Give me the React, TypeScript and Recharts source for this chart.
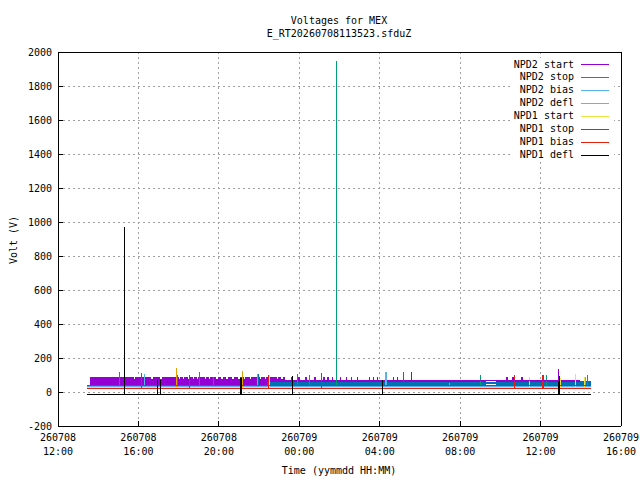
import React from 'react';
import { ComposedChart, Line, Area, XAxis, YAxis, CartesianGrid } from 'recharts';

// time axis is in hours counted from 260708 00:00
const xTicks = [12, 16, 20, 24, 28, 32, 36, 40];
const xTickDates = ['260708', '260708', '260708', '260709', '260709', '260709', '260709', '260709'];
const xTickTimes = ['12:00', '16:00', '20:00', '00:00', '04:00', '08:00', '12:00', '16:00'];
const yTicks = [-200, 0, 200, 400, 600, 800, 1000, 1200, 1400, 1600, 1800, 2000];

const seriesNames = ['NPD2 start', 'NPD2 stop', 'NPD2 bias', 'NPD2 defl', 'NPD1 start', 'NPD1 stop', 'NPD1 bias', 'NPD1 defl'];
const seriesColors = ['#9400d3', '#009e73', '#56b4e9', '#e69f00', '#f0e442', '#0072b2', '#e51e10', '#000000'];

const tStart = 13.43;
const tEnd = 38.52;

// NPD2 start: noisy band, read as [from, to, low, high] segments
const npd2StartSegments: [number, number, number, number][] = [
  [13.59, 23.3, 42, 91],
  [23.3, 33.3, 60, 72],
  [33.8, 37.96, 60, 72],
];
// places where the top of the band dips (first segment) or rises (later ones)
const npd2StartDips = [15.78, 16.65, 17.08, 18.02, 18.22, 18.47, 18.7, 18.9, 19.3, 19.5, 19.7, 19.88, 20.13, 20.38, 20.66, 20.96, 21.25, 21.54, 22.03, 22.28, 22.87, 23.11];
const npd2StartDipLevel = 76;
const npd2StartBumps = [23.6, 23.95, 24.3, 24.75, 25.2, 25.4, 25.63, 26.0, 26.3, 26.55, 26.85, 27.45, 27.65, 27.85, 28.25, 28.65, 28.85, 34.3, 34.6, 35.05];
const npd2StartBumpLevel = 90;
const npd2StartSpikes: [number, number][] = [[29.6, 117], [36.9, 136]];

// NPD1 stop: thin line first, then a band
const npd1StopBand: [number, number, number][] = [
  [22.4, 36, 60],
  [33.3, 48, 60],
  [33.8, 36, 60],
  [37.96, 36, 62],
  [38.52, 36, 62],
];
const npd1StopBase = 40;
const npd1StopSpikes: [number, number][] = [[21.97, 107], [29.2, 119]];

const npd2StopBase = 34;
const npd2StopSpikes: [number, number][] = [[15.06, 119], [17.95, 100], [19.03, 119], [19.71, 90], [23.9, 103], [24.5, 100], [25.83, 1948], [32.99, 101], [36.27, 101], [38.33, 101]];

const npd2BiasBase = 31;
const npd2BiasSpikes: [number, number][] = [[16.3, 107], [21.9, 103], [28.28, 119], [28.33, 119], [38.25, 90]];

const npd2DeflBase = 24;
const npd2DeflSpikes: [number, number][] = [[17.9, 142], [21.2, 124], [31.45, 54]];

const npd1StartBase = 29;
const npd1StartSpikes: [number, number][] = [[22.5, 100], [35.45, 88], [36.98, 85], [37.72, 108], [38.2, 86]];

const npd1BiasBase = 19;
const npd1BiasSpikes: [number, number][] = [[16.17, 113], [18.56, 100], [22.47, 100], [25.1, 113], [34.71, 101], [36.09, 101], [36.14, 101]];

const npd1DeflBase = -12;
const npd1DeflSpikes: [number, number][] = [[15.33, 972], [16.93, 70], [17.12, 70], [21.06, 80], [21.14, 80], [23.64, 97], [28.12, 70], [36.88, 97], [36.93, 97]];

type Pt = { t: number; v: number };
type BandPt = { t: number; r: [number, number] | null };

const spikeLine = (base: number, spikes: [number, number][], from = tStart, to = tEnd): Pt[] => {
  const pts: Pt[] = [{ t: from, v: base }];
  spikes.forEach(([t, peak]) => {
    pts.push({ t, v: base }, { t, v: peak }, { t, v: base });
  });
  pts.push({ t: to, v: base });
  return pts;
};

const spikesOnly = (spikes: [number, number][], base: number): Pt[] => {
  const pts: Pt[] = [];
  spikes.forEach(([t, peak]) => {
    pts.push({ t, v: base }, { t, v: peak }, { t, v: base });
  });
  return pts;
};

const buildPurpleBand = (): BandPt[] => {
  const out: BandPt[] = [];
  npd2StartSegments.forEach(([from, to, lo, hi], si) => {
    if (si > 0 && out.length && out[out.length - 1].t < from) out.push({ t: (out[out.length - 1].t + from) / 2, r: null });
    out.push({ t: from, r: [lo, hi] });
    const marks = si === 0 ? npd2StartDips : npd2StartBumps;
    const level = si === 0 ? npd2StartDipLevel : npd2StartBumpLevel;
    marks.filter((m) => m > from && m < to).forEach((m) => {
      out.push({ t: m, r: [lo, level] });
      out.push({ t: m + 0.07, r: [lo, hi] });
    });
    out.push({ t: to, r: [lo, hi] });
  });
  return out;
};

const purpleBand = buildPurpleBand();
const blueBand: BandPt[] = npd1StopBand.map(([t, lo, hi]) => ({ t, r: [lo, hi] }));

const lineSeries = [
  { color: seriesColors[1], data: spikeLine(npd2StopBase, npd2StopSpikes) },
  { color: seriesColors[2], data: spikeLine(npd2BiasBase, npd2BiasSpikes) },
  { color: seriesColors[3], data: spikeLine(npd2DeflBase, npd2DeflSpikes) },
  { color: seriesColors[4], data: spikeLine(npd1StartBase, npd1StartSpikes) },
  { color: seriesColors[5], data: spikeLine(npd1StopBase, npd1StopSpikes) },
  { color: seriesColors[6], data: spikeLine(npd1BiasBase, npd1BiasSpikes) },
  { color: seriesColors[7], data: spikeLine(npd1DeflBase, npd1DeflSpikes) },
  { color: seriesColors[0], data: spikesOnly(npd2StartSpikes, 70) },
];

const FONT = '"DejaVu Sans Mono", "Liberation Mono", monospace';

const XTick = (props: any) => {
  const { x, y, payload } = props;
  const i = xTicks.indexOf(payload.value);
  return (
    <text x={x} y={y} textAnchor="middle" fontSize={10} fontFamily={FONT} fill="#000">
      <tspan x={x} dy={10.5}>{xTickDates[i]}</tspan>
      <tspan x={x} dy={14.5}>{xTickTimes[i]}</tspan>
    </text>
  );
};

const App = () => {
  return (
    <div style={{ position: 'absolute', left: 0, top: 0, width: 640, height: 480, background: '#fff' }}>
      <style>{`
        .recharts-line-curve, .recharts-area-area, .recharts-cartesian-grid line,
        .recharts-cartesian-axis-line, .recharts-cartesian-axis-tick-line { shape-rendering: crispEdges; }
      `}</style>
      <ComposedChart width={640} height={480} margin={{ top: 51, right: 18, bottom: 0, left: 0 }}>
        <CartesianGrid stroke="#a0a0a0" strokeDasharray="2 3" />
        <XAxis
          dataKey="t"
          type="number"
          domain={[12, 40]}
          ticks={xTicks}
          interval={0}
          allowDataOverflow
          height={54}
          stroke="#000"
          tickSize={-5}
          tickMargin={9}
          tick={<XTick />}
        />
        <XAxis
          xAxisId="top"
          orientation="top"
          dataKey="t"
          type="number"
          domain={[12, 40]}
          ticks={xTicks}
          interval={0}
          allowDataOverflow
          height={1}
          stroke="#000"
          tickSize={-5}
          tick={false}
        />
        <YAxis
          type="number"
          domain={[-200, 2000]}
          ticks={yTicks}
          interval={0}
          allowDataOverflow
          width={58}
          stroke="#000"
          tickSize={-5}
          tickMargin={11}
          tick={{ fill: '#000', fontSize: 10, fontFamily: FONT }}
        />
        <YAxis
          yAxisId="right"
          orientation="right"
          type="number"
          domain={[-200, 2000]}
          ticks={yTicks}
          interval={0}
          allowDataOverflow
          width={1}
          stroke="#000"
          tickSize={-5}
          tick={false}
        />
        <Area
          data={purpleBand}
          dataKey="r"
          type="stepAfter"
          stroke="none"
          fill={seriesColors[0]}
          fillOpacity={1}
          isAnimationActive={false}
          legendType="none"
        />
        <Area
          data={blueBand}
          dataKey="r"
          type="stepAfter"
          stroke="none"
          fill={seriesColors[5]}
          fillOpacity={1}
          isAnimationActive={false}
          legendType="none"
        />
        {lineSeries.map((s, i) => (
          <Line
            key={i}
            data={s.data}
            dataKey="v"
            type="linear"
            stroke={s.color}
            strokeWidth={1}
            dot={false}
            activeDot={false}
            isAnimationActive={false}
            legendType="none"
          />
        ))}
      </ComposedChart>
      <svg width={640} height={480} style={{ position: 'absolute', left: 0, top: 0, pointerEvents: 'none' }}>
        <g fontFamily={FONT} fontSize={10} fill="#000">
          <text x={339} y={20} textAnchor="middle" dominantBaseline="central">Voltages for MEX</text>
          <text x={339} y={33} textAnchor="middle" dominantBaseline="central">E_RT20260708113523.sfduZ</text>
          <text x={339} y={470} textAnchor="middle" dominantBaseline="central">Time (yymmdd HH:MM)</text>
          <text x={13} y={240} textAnchor="middle" dominantBaseline="central" transform="rotate(-90 13 240)">Volt (V)</text>
        </g>
        <rect x={511} y={58} width={103} height={103} fill="#fff" />
        {seriesNames.map((name, i) => {
          const cy = 64 + i * 12.93;
          return (
            <g key={name}>
              <text x={574} y={cy} textAnchor="end" dominantBaseline="central" fontFamily={FONT} fontSize={10} fill="#000">{name}</text>
              <line x1={581} x2={609} y1={Math.round(cy) + 0.5} y2={Math.round(cy) + 0.5} stroke={seriesColors[i]} strokeWidth={1} />
            </g>
          );
        })}
      </svg>
    </div>
  );
};

export default App;
